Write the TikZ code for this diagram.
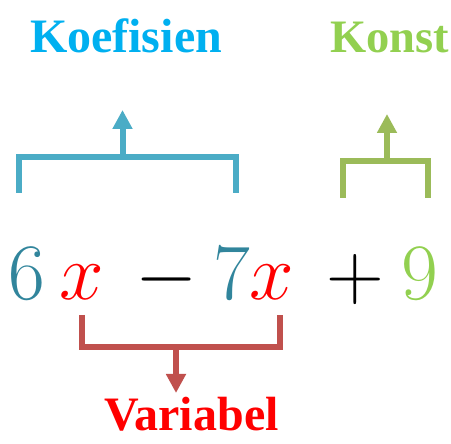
\RequirePackage{fix-cm}
\documentclass[tikz,border=0pt]{standalone}
\usepackage{fontspec}
\newfontfamily\lblfont{Liberation Serif}
\usetikzlibrary{arrows.meta}
\definecolor{koefc}{HTML}{00B0F0}
\definecolor{konstc}{HTML}{92D050}
\definecolor{bblue}{HTML}{4BACC6}
\definecolor{bgreen}{HTML}{9BBB59}
\definecolor{bred}{HTML}{C0504D}
\definecolor{varc}{HTML}{FF0000}
\definecolor{tealc}{HTML}{31859C}
\tikzset{
  lbl/.style={inner sep=0pt, anchor=base, font=\lblfont\bfseries\fontsize{48}{48}\selectfont},
  eq/.style={inner sep=0pt, anchor=base, font=\fontsize{80}{80}\selectfont},
  brk/.style={line width=6pt, line join=miter},
  arr/.style={line width=6pt, -{Triangle[length=19pt,width=19pt]}}
}
\begin{document}
\begin{tikzpicture}[x=1pt,y=-1pt]
\useasboundingbox (0,0) rectangle (451,444);
% labels
\node[lbl, text=koefc] (koef) at (126,53) {Koefisien};
\node[lbl, text=konstc, anchor=base west, font=\lblfont\bfseries\fontsize{46.5}{46.5}\selectfont] (konst) at (330,53) {Konst};
\node[lbl, text=varc] (var) at (191.5,431) {Variabel};
% equation
\node[eq, text=tealc] (six) at (27,300) {$6$};
\node[eq, text=varc] (x1) at (82,300) {$x$};
\node[eq] (minus) at (166.5,300) {$-$};
\node[eq, text=tealc] (seven) at (231.5,300) {$7$};
\node[eq, text=varc] (x2) at (271.5,300) {$x$};
\node[eq] (plus) at (355.5,300) {$+$};
\node[eq, text=konstc] (nine) at (419.5,300) {$9$};
% blue bracket
\coordinate (bl) at (19,193);
\coordinate (br) at (236,193);
\coordinate (bm) at (122.5,157);
\coordinate (bt) at (122.5,110);
\draw[brk, bblue] (bl) |- (bm) -| (br);
\draw[arr, bblue] (bm) -- (bt);
% green bracket
\coordinate (gl) at (343,198);
\coordinate (gr) at (428,198);
\coordinate (gm) at (387,161);
\coordinate (gt) at (387,114);
\draw[brk, bgreen] (gl) |- (gm) -| (gr);
\draw[arr, bgreen] (gm) -- (gt);
% red bracket
\coordinate (rl) at (82,315);
\coordinate (rr) at (279.5,315);
\coordinate (rm) at (176,347);
\coordinate (rt) at (176,393);
\draw[brk, bred] (rl) |- (rm) -| (rr);
\draw[arr, bred] (rm) -- (rt);
\end{tikzpicture}
\end{document}
